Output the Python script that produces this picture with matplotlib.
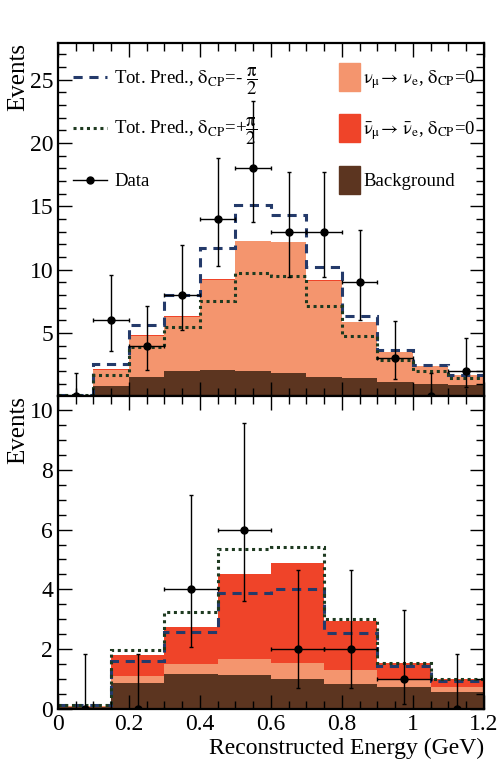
import numpy as np
import matplotlib.pyplot as plt
from matplotlib.patches import Patch
from matplotlib.lines import Line2D
from matplotlib.legend import Legend
from matplotlib.ticker import MultipleLocator, FixedLocator

plt.rcParams['font.family'] = ['Liberation Serif', 'DejaVu Serif']
plt.rcParams['mathtext.fontset'] = 'stix'

# ---- neutrino mode (top panel), 0.1 GeV bins
edges_top = [0.0, 0.1, 0.2, 0.3, 0.4, 0.5, 0.6, 0.7, 0.8, 0.9, 1.0, 1.1, 1.2]
bkg_top = [0.1, 0.8, 1.52, 2.02, 2.07, 2.05, 1.89, 1.57, 1.47, 1.16, 1.02, 0.9]
nue_top = [0.03, 1.33, 3.28, 4.28, 7.12, 10.2, 10.27, 7.56, 4.41, 2.36, 1.37, 0.81]
nuebar_top = [0.0, 0.02, 0.03, 0.04, 0.05, 0.06, 0.05, 0.04, 0.03, 0.02, 0.02, 0.01]
pred_m_top = [0.15, 2.57, 5.67, 7.98, 11.7, 15.1, 14.33, 10.26, 6.38, 3.7, 2.47, 1.73]
pred_p_top = [0.13, 1.73, 3.94, 5.46, 7.56, 9.76, 9.53, 7.11, 4.75, 2.91, 2.0, 1.47]
data_x_top = [0.05, 0.15, 0.25, 0.35, 0.45, 0.55, 0.65, 0.75, 0.85, 0.95, 1.05, 1.15]
data_top = [0, 6, 4, 8, 14, 18, 13, 13, 9, 3, 0, 2]
err_lo_top = [0, 2.38, 1.91, 2.77, 3.70, 4.20, 3.57, 3.57, 2.94, 1.63, 0, 1.29]
err_hi_top = [1.84, 3.58, 3.16, 3.94, 4.83, 5.30, 4.71, 4.71, 4.11, 2.92, 1.84, 2.64]

# ---- antineutrino mode (bottom panel), 0.15 GeV bins
edges_bot = [0.0, 0.15, 0.3, 0.45, 0.6, 0.75, 0.9, 1.05, 1.2]
bkg_bot = [0.08, 0.87, 1.17, 1.14, 1.01, 0.84, 0.72, 0.57]
nue_bot = [0.01, 0.22, 0.33, 0.54, 0.52, 0.45, 0.26, 0.16]
nuebar_bot = [0.02, 0.72, 1.23, 2.83, 3.34, 1.65, 0.57, 0.27]
pred_m_bot = [0.12, 1.61, 2.57, 3.87, 4.0, 2.53, 1.44, 0.94]
pred_p_bot = [0.13, 1.97, 3.24, 5.34, 5.42, 3.01, 1.53, 1.0]
data_x_bot = [0.075, 0.225, 0.375, 0.525, 0.675, 0.825, 0.975, 1.125]
data_bot = [0, 0, 4, 6, 2, 2, 1, 0]
err_lo_bot = [0, 0, 1.91, 2.38, 1.29, 1.29, 0.83, 0]
err_hi_bot = [1.84, 1.84, 3.16, 3.58, 2.64, 2.64, 2.30, 1.84]

c_nue = '#f4956e'
c_nuebar = '#ef4429'
c_bkg = '#5c3520'
c_pm = '#243a6a'
c_pp = '#1e3a20'


def draw_panel(ax, edges, bkg, nue, nuebar, pm, pp, dx, dy, elo, ehi, xerr):
    bkg = np.array(bkg)
    nue = np.array(nue)
    nuebar = np.array(nuebar)
    ax.stairs(bkg + nue + nuebar, edges, fill=True, color=c_nuebar, lw=0)
    ax.stairs(bkg + nue, edges, fill=True, color=c_nue, lw=0)
    ax.stairs(bkg, edges, fill=True, color=c_bkg, lw=0)
    ax.stairs(pm, edges, baseline=None, color=c_pm, lw=2.2, ls=(0, (3, 2.2)))
    ax.stairs(pp, edges, baseline=None, color=c_pp, lw=2.2, ls=(0, (1, 1.2)))
    ax.errorbar(dx, dy, xerr=xerr, yerr=[elo, ehi], fmt='o', color='black',
                ms=5, elinewidth=1, capsize=1.5, capthick=1, zorder=5)
    ax.set_xlim(0, 1.2)
    ax.xaxis.set_major_locator(MultipleLocator(0.2))
    ax.xaxis.set_minor_locator(MultipleLocator(0.05))
    ax.yaxis.set_minor_locator(MultipleLocator(1))
    ax.tick_params(which='both', direction='in', top=True, right=True, labelsize=17)
    ax.tick_params(which='major', length=10, width=1)
    ax.tick_params(which='minor', length=6, width=1)
    for s in ax.spines.values():
        s.set_linewidth(1.6)


fig = plt.figure(figsize=(4.99, 7.6), dpi=100)
ax1 = fig.add_axes([0.1162, 0.4783, 0.8537, 0.4651])
ax2 = fig.add_axes([0.1162, 0.0671, 0.8537, 0.4112])

draw_panel(ax1, edges_top, bkg_top, nue_top, nuebar_top, pred_m_top, pred_p_top,
           data_x_top, data_top, err_lo_top, err_hi_top, 0.05)
draw_panel(ax2, edges_bot, bkg_bot, nue_bot, nuebar_bot, pred_m_bot, pred_p_bot,
           data_x_bot, data_bot, err_lo_bot, err_hi_bot, 0.075)

ax1.set_ylim(0, 27.9)
ax1.yaxis.set_major_locator(FixedLocator([5, 10, 15, 20, 25]))
ax1.tick_params(labelbottom=False)
ax1.set_ylabel('Events', loc='top', fontsize=18, labelpad=0)

ax2.set_ylim(0, 10.45)
ax2.yaxis.set_major_locator(MultipleLocator(2))
ax2.yaxis.set_minor_locator(MultipleLocator(0.5))
ax2.xaxis.set_major_formatter(plt.FuncFormatter(lambda v, p: f'{v:g}'))
ax2.set_ylabel('Events', loc='top', fontsize=18, labelpad=0)
ax2.set_xlabel('Reconstructed Energy (GeV)', loc='right', fontsize=17, labelpad=2)

# legend: one entry per legend so each row sits where the reference has it
row_y_left = [0.892, 0.750, 0.607]
row_y_right = [0.904, 0.760, 0.613]
h_left = [
    Line2D([], [], color=c_pm, lw=2.2, ls=(0, (3, 2.2))),
    Line2D([], [], color=c_pp, lw=2.2, ls=(0, (1, 1.2))),
    Line2D([], [], color='black', lw=1, marker='o', ms=5),
]
l_left = [r'Tot. Pred., $\mathrm{\delta_{CP}}$=- $\dfrac{\mathrm{\pi}}{2}$',
          r'Tot. Pred., $\mathrm{\delta_{CP}}$=+$\dfrac{\mathrm{\pi}}{2}$',
          'Data']
h_right = [Patch(color=c_nue), Patch(color=c_nuebar), Patch(color=c_bkg)]
l_right = [r'$\mathrm{\nu_\mu\!\rightarrow\,\nu_e}$, $\mathrm{\delta_{CP}}$=0',
           r'$\mathrm{\bar{\nu}_\mu\!\rightarrow\,\bar{\nu}_e}$, $\mathrm{\delta_{CP}}$=0',
           'Background']

for h, l, y in zip(h_left, l_left, row_y_left):
    lg = Legend(ax1, [h], [l], loc='center left', bbox_to_anchor=(0.035, y),
                frameon=False, fontsize=13.5, handlelength=1.8,
                handletextpad=0.4, borderaxespad=0, borderpad=0)
    ax1.add_artist(lg)
for h, l, y in zip(h_right, l_right, row_y_right):
    lg = Legend(ax1, [h], [l], loc='center left', bbox_to_anchor=(0.66, y),
                frameon=False, fontsize=13.5, handlelength=1.12,
                handleheight=1.97, handletextpad=0.15, borderaxespad=0,
                borderpad=0)
    ax1.add_artist(lg)

fig.savefig('out.png', dpi=100)
